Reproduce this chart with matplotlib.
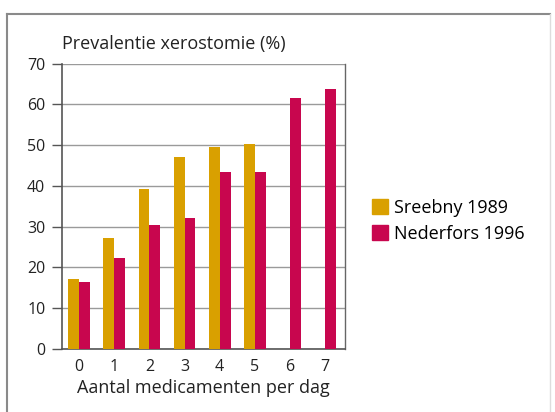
import matplotlib
matplotlib.use("Agg")
import matplotlib.pyplot as plt
from matplotlib.lines import Line2D
from matplotlib.patches import Patch
import numpy as np

categories = ["0", "1", "2", "3", "4", "5", "6", "7"]
sreebny_1989 = [17.1, 27.2, 39.2, 47.1, 49.5, 50.3, None, None]
nederfors_1996 = [16.5, 22.3, 30.5, 32.2, 43.4, 43.4, 61.5, 63.7]
yticks = [0, 10, 20, 30, 40, 50, 60, 70]
series_names = ["Sreebny 1989", "Nederfors 1996"]

plt.rcParams['font.family'] = ['Open Sans', 'DejaVu Sans']

c_orange = "#D9A000"
c_red = "#C8064E"

fig = plt.figure(figsize=(5.55, 4.12), dpi=100)
W, H = 555, 412
ax = fig.add_axes([62 / W, 1 - 349 / H, (345 - 62) / W, (349 - 63.5) / H])

x = np.arange(len(categories))
bw = 0.31
s_x = [xi for xi, v in zip(x, sreebny_1989) if v is not None]
s_v = [v for v in sreebny_1989 if v is not None]
ax.bar(np.array(s_x) - bw / 2, s_v, width=bw, color=c_orange, zorder=3, label=series_names[0])
ax.bar(x + bw / 2, nederfors_1996, width=bw, color=c_red, zorder=3, label=series_names[1])

ax.set_xlim(-0.49, 7.57)
ax.set_ylim(0, 70)
ax.set_yticks(yticks)
ax.set_xticks(x)
ax.set_xticklabels(categories)
ax.yaxis.grid(True, color="#9a9a9a", linewidth=1.0, zorder=1)
ax.set_axisbelow(True)
ax.spines["top"].set_visible(False)
ax.spines["right"].set_color("#666666")
ax.spines["left"].set_color("#555555")
ax.spines["bottom"].set_color("#555555")
ax.spines["left"].set_linewidth(1.2)
ax.spines["bottom"].set_linewidth(1.2)
ax.spines["right"].set_linewidth(1.0)
ax.tick_params(axis="y", length=7, width=1.0, color="#555555", labelsize=11.5, labelcolor="#222222", pad=5)
ax.tick_params(axis="x", length=0, labelsize=11.5, labelcolor="#222222", pad=7)

ax.set_xlabel("Aantal medicamenten per dag", fontsize=13, color="#222222", labelpad=3)
fig.text(62 / W, 1 - 44 / H, "Prevalentie xerostomie (%)", fontsize=13, color="#222222", ha="left", va="center")

handles = [Patch(color=c_orange), Patch(color=c_red)]
fig.legend(handles, series_names, loc="center left", bbox_to_anchor=(372 / W, 1 - 221 / H),
           frameon=False, fontsize=13, handlelength=0.9, handleheight=0.9, handletextpad=0.3,
           labelspacing=0.45, borderaxespad=0, borderpad=0)

# outer frame
fr = "#8a8a8a"
fig.add_artist(Line2D([7 / W, 7 / W], [0, 1 - 14 / H], color=fr, linewidth=1.5, transform=fig.transFigure))
fig.add_artist(Line2D([7 / W, 550 / W], [1 - 14 / H, 1 - 14 / H], color=fr, linewidth=1.5, transform=fig.transFigure))
fig.add_artist(Line2D([550 / W, 550 / W], [0, 1 - 14 / H], color="#dddddd", linewidth=1.0, transform=fig.transFigure))

fig.savefig("out.png", dpi=100)
